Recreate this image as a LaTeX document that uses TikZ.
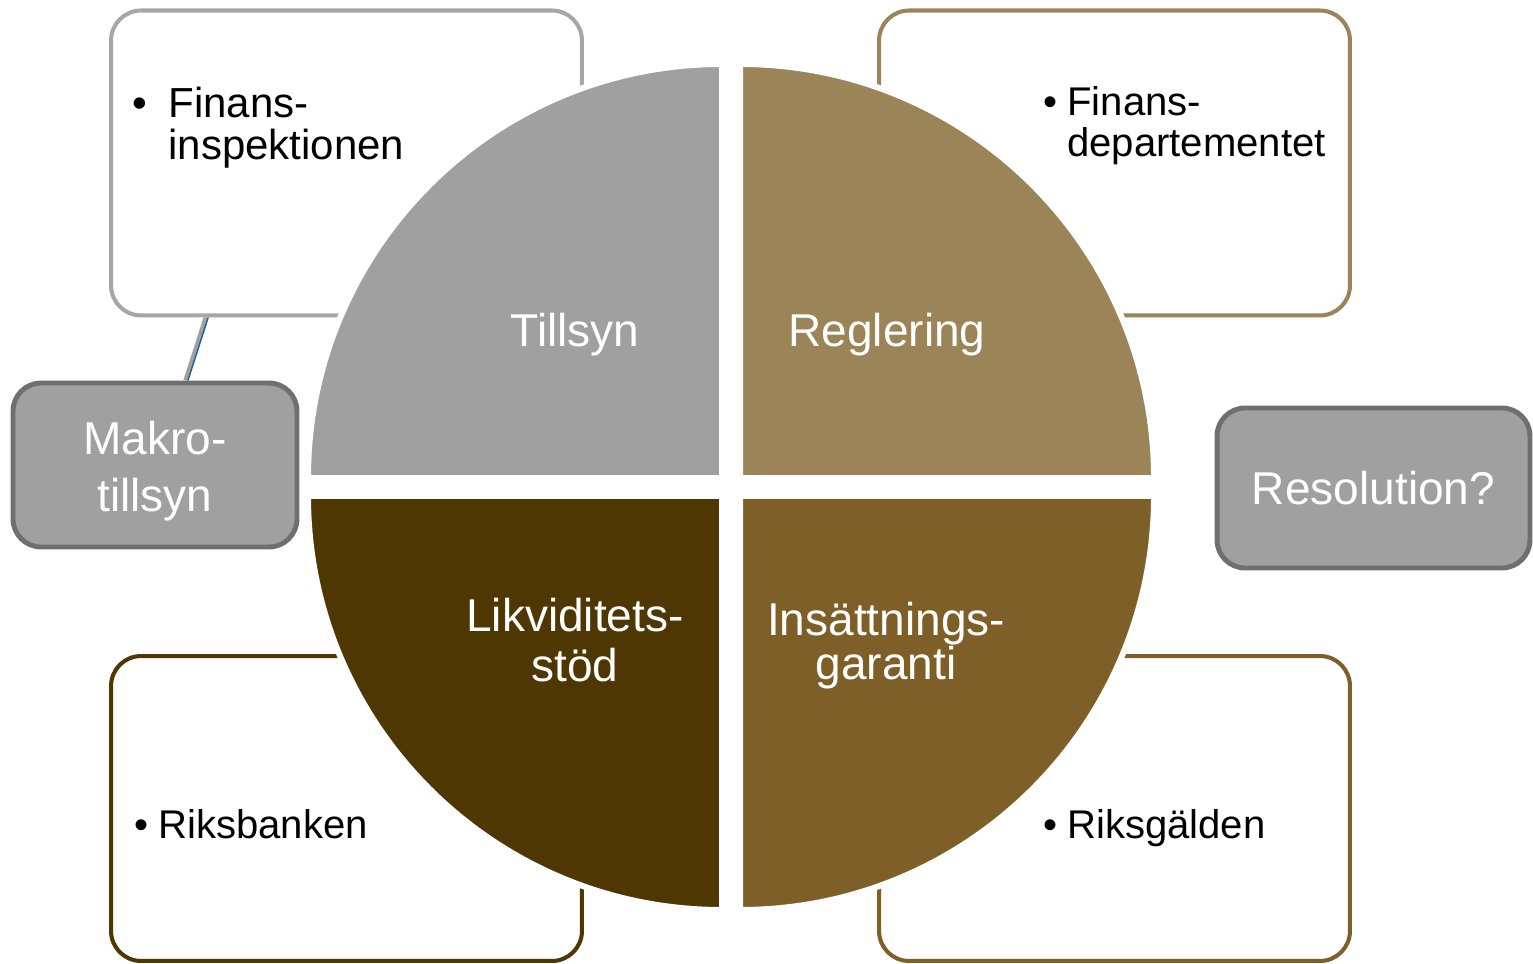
\documentclass[tikz,border=0pt]{standalone}
\usepackage{fontspec}
\setmainfont{Liberation Sans}
\usetikzlibrary{calc}
\definecolor{tillsyncol}{HTML}{A0A0A0}
\definecolor{regelcol}{HTML}{9A8458}
\definecolor{likvcol}{HTML}{4F3703}
\definecolor{garanticol}{HTML}{7E5F28}
\definecolor{boxgrey}{HTML}{A6A6A6}
\definecolor{rimgrey}{HTML}{6F6F6F}
\definecolor{linkblue}{HTML}{1F5F9F}
\tikzset{
  ansvar/.style = {draw, fill = white, line width = 2.3pt, rounded corners = 0.6cm, minimum width = 9.42cm, minimum height = 6.1cm},
  extra/.style = {draw = rimgrey, fill = tillsyncol, line width = 2.8pt, rounded corners = 0.56cm, text = white, font = \fontsize{26.2}{30}\selectfont},
  quadtxt/.style = {text = white, font = \fontsize{26.2}{30}\selectfont, inner sep = 0pt},
  boxtxt/.style = {text = black, font = \fontsize{22.8}{26}\selectfont, inner sep = 0pt, anchor = base west}
}
\begin{document}
\begin{tikzpicture}[x=0.02cm, y=0.02cm]
\useasboundingbox (0,0) rectangle (1533,963);
\pgfmathsetmacro\R{414};
\pgfmathsetmacro\gap{9};
% boxes with the authorities
\node[ansvar, draw = boxgrey] (fi) at (346.5,800) {};
\node[ansvar, draw = regelcol] (fd) at (1114.5,800) {};
\node[ansvar, draw = likvcol] (rb) at (346.5,154.5) {};
\node[ansvar, draw = garanticol] (rg) at (1114.5,154.5) {};
% grey side boxes
\node[extra, minimum width = 5.68cm, minimum height = 3.28cm] (makro) at (155,498) {};
\node[extra, minimum width = 6.26cm, minimum height = 3.2cm] (resol) at (1373.5,475) {Resolution?};
\coordinate (con1) at ($(fi.south west)!0.204!(fi.south east)$);
\coordinate (con2) at ($(makro.north west)!0.606!(makro.north east)$);
\draw[tillsyncol, line width = 2.6pt] (con1) -- (con2);
\draw[linkblue, line width = 0.8pt] ([xshift=1.3pt]con1) -- ([xshift=1.3pt]con2);
% the four quarters
\foreach \sx/\sy/\a/\col in {-1/1/90/tillsyncol, 1/1/0/regelcol, -1/-1/180/likvcol, 1/-1/270/garanticol}
  \draw[fill = \col, draw = white, line width = 3.4pt] (731+\sx*\gap,476+\sy*\gap) -- ++(\a:\R) arc (\a:\a+90:\R) -- cycle;
% labels
\node[quadtxt, anchor = base] (tillsyn) at (575,616) {Tillsyn};
\node[quadtxt, anchor = base] (regler) at (887,616) {Reglering};
\node[quadtxt, anchor = base] (likv1) at (575,331) {Likviditets-};
\node[quadtxt, anchor = base] (likv2) at (575,281) {stöd};
\node[quadtxt, anchor = base] (gar1) at (886,327) {Insättnings-};
\node[quadtxt, anchor = base] (gar2) at (886,283) {garanti};
\node[quadtxt, anchor = base] (makro1) at (155,508) {Makro-};
\node[quadtxt, anchor = base] (makro2) at (155,451) {tillsyn};
\node[boxtxt, font = \fontsize{23.9}{28}\selectfont] (fib) at (132,845) {•};
\node[boxtxt, font = \fontsize{23.9}{28}\selectfont] (fi1) at (168,845) {Finans-};
\node[boxtxt, font = \fontsize{23.9}{28}\selectfont] (fi2) at (168,803) {inspektionen};
\node[boxtxt] (fdb) at (1043,847) {•};
\node[boxtxt] (fd1) at (1067,847) {Finans-};
\node[boxtxt] (fd2) at (1067,806) {departementet};
\node[boxtxt] (rbb) at (134,125) {•};
\node[boxtxt] (rb1) at (158,125) {Riksbanken};
\node[boxtxt] (rgb) at (1043,125) {•};
\node[boxtxt] (rg1) at (1067,125) {Riksgälden};
\end{tikzpicture}
\end{document}
